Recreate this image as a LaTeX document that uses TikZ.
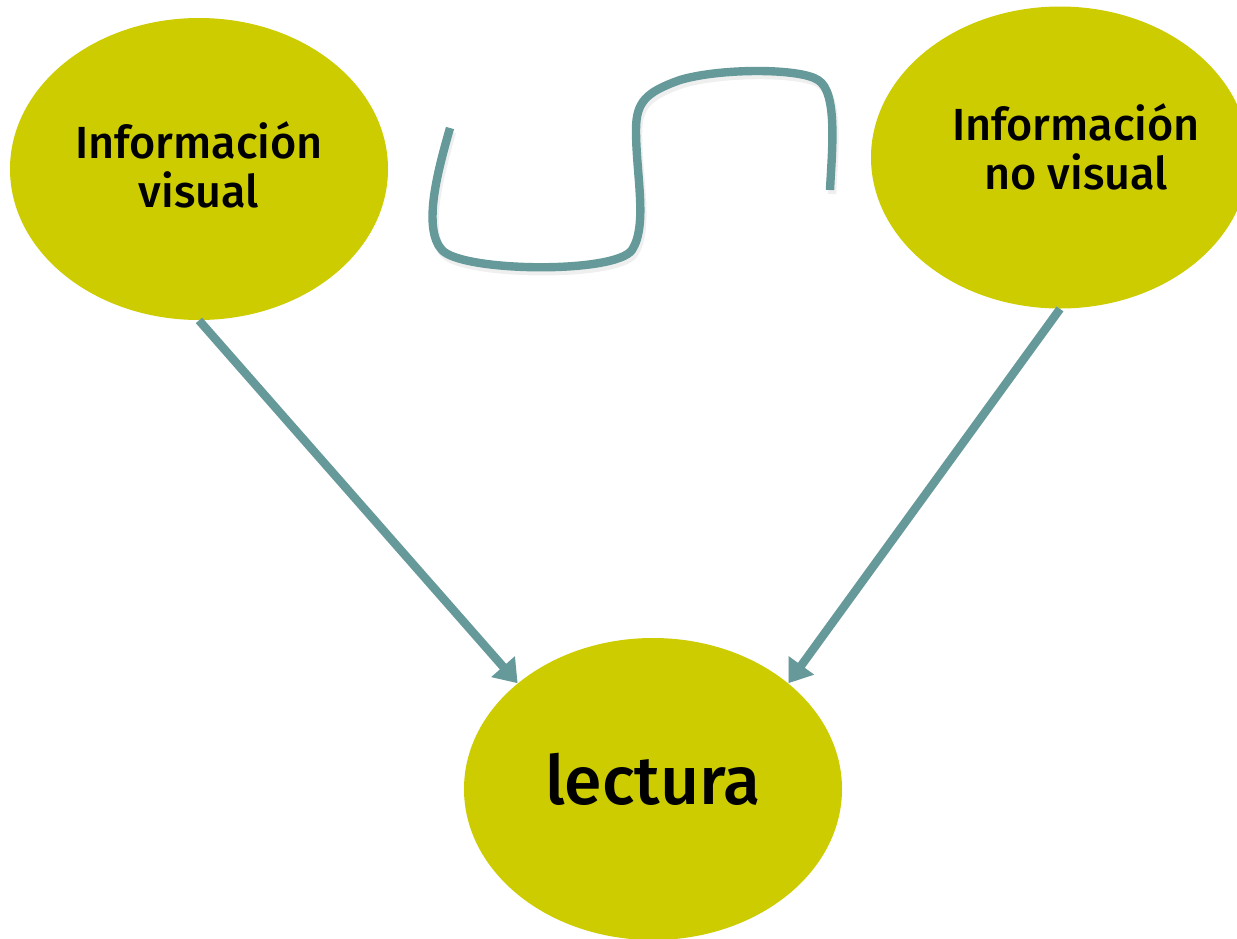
\documentclass[tikz,border=0pt]{standalone}
\usepackage{fontspec}
\setmainfont{Fira Sans}[BoldFont={Fira Sans Medium}]
\usetikzlibrary{shapes.geometric,arrows.meta}
\definecolor{olive}{RGB}{204,204,0}
\definecolor{teal}{RGB}{102,153,153}
\tikzset{
  blob/.style={ellipse, fill=olive, draw=none, minimum width=189pt, minimum height=151pt, inner sep=0pt, align=center, text=black},
  conn/.style={draw=teal, line width=4.2pt, -{Triangle[length=11pt,width=15pt]}},
  connshadow/.style={draw=black!15, opacity=0.5, line width=4.2pt, -{Triangle[length=11pt,width=15pt]}},
  wave/.style={draw=teal, line width=4.2pt, line cap=butt},
  waveshadow/.style={draw=black!12, opacity=0.5, line width=4.2pt},
  lbl/.style={font=\bfseries\fontsize{22.5}{24.5}\selectfont, align=center},
}
\begin{document}
\begin{tikzpicture}[x=0.5pt,y=-0.5pt]
\useasboundingbox (0,0) rectangle (1237,938);
\clip (0,0) rectangle (1237,938);
\fill[white] (0,0) rectangle (1237,938);
\node[blob] (vis) at (199,169) {};
\node[lbl] (vistext) at (199,165) {Información\\visual};
\node[blob] (nvis) at (1060,157.5) {};
\node[lbl] (nvistext) at (1076,147) {Información\\no visual};
\node[blob] (lect) at (653,789) {};
\node[font=\bfseries\fontsize{34}{40}\selectfont] (lecttext) at (653,779) {lectura};
% shadows
\begin{scope}[shift={(2,4)}]
\draw[connshadow] (vis.south) -- (lect.142);
\draw[connshadow] (nvis.south) -- (lect.38);
\draw[waveshadow] (450,128) .. controls (438,170) and (422,228) .. (442,250) .. controls (462,272) and (615,274) .. (632,250) .. controls (648,225) and (636,175) .. (636,130) .. controls (636,102) and (646,92) .. (680,80) .. controls (720,68) and (800,68) .. (818,80) .. controls (838,92) and (832,150) .. (830,190);
\end{scope}
\draw[conn] (vis.south) -- (lect.142);
\draw[conn] (nvis.south) -- (lect.38);
\draw[wave] (450,128) .. controls (438,170) and (422,228) .. (442,250) .. controls (462,272) and (615,274) .. (632,250) .. controls (648,225) and (636,175) .. (636,130) .. controls (636,102) and (646,92) .. (680,80) .. controls (720,68) and (800,68) .. (818,80) .. controls (838,92) and (832,150) .. (830,190);
\end{tikzpicture}
\end{document}
